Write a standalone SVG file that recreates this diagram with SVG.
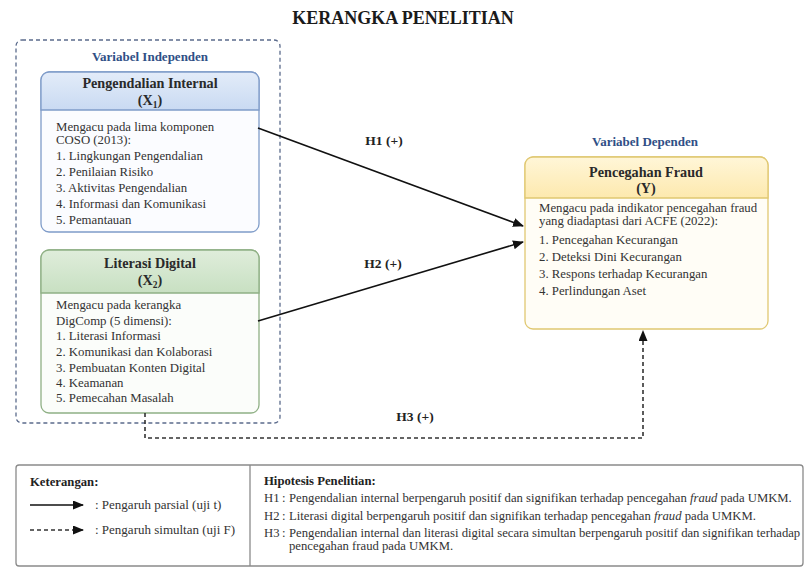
<svg xmlns="http://www.w3.org/2000/svg" width="807" height="570" viewBox="0 0 807 570">
<defs>
<style>
text{font-family:"Liberation Serif","Times New Roman",serif;fill:#2a2a2a}
.title{font-size:18px;font-weight:bold;fill:#1a1a1a}
.grp{font-size:13px;font-weight:bold;fill:#2f4f86}
.hd{font-size:14.2px;font-weight:bold;fill:#2a2a2a}
.bd{font-size:12.8px;fill:#333}
.hl{font-size:13.5px;font-weight:bold;fill:#222}
.lg{font-size:12.7px;fill:#333}
.lgl{font-size:13px;fill:#333}
.lgb{font-size:12.7px;font-weight:bold;fill:#222}
.conn{fill:none;stroke:#111;stroke-width:1.6}
.dash{fill:none;stroke:#333;stroke-width:1.6;stroke-dasharray:4 3}
</style>
<linearGradient id="gb" x1="0" y1="0" x2="0" y2="1"><stop offset="0" stop-color="#e3ecf9"/><stop offset="1" stop-color="#c9daf2"/></linearGradient>
<linearGradient id="gg" x1="0" y1="0" x2="0" y2="1"><stop offset="0" stop-color="#dfeddb"/><stop offset="1" stop-color="#c8e0c2"/></linearGradient>
<linearGradient id="gy" x1="0" y1="0" x2="0" y2="1"><stop offset="0" stop-color="#fff6d8"/><stop offset="1" stop-color="#fde9ae"/></linearGradient>
<marker id="ah" markerWidth="11" markerHeight="9" refX="10" refY="4.5" orient="auto" markerUnits="userSpaceOnUse"><path d="M0,0 L11,4.5 L0,9 Z" fill="#111"/></marker>
</defs>
<rect width="807" height="570" fill="#ffffff"/>
<text class="title" x="403" y="24" text-anchor="middle">KERANGKA PENELITIAN</text>

<g id="independen">
<rect x="16" y="40" width="264" height="383" rx="6" fill="none" stroke="#5b6b8c" stroke-width="1.3" stroke-dasharray="4 3"/>
<text class="grp" x="150" y="61" text-anchor="middle">Variabel Independen</text>
</g>

<g id="x1">
<rect x="41" y="72" width="218" height="160" rx="8" fill="#fbfcff" stroke="#7f9cc9" stroke-width="1.3"/>
<path d="M41,110 V80 a8,8 0 0 1 8,-8 H251 a8,8 0 0 1 8,8 V110 Z" fill="url(#gb)" stroke="#7f9cc9" stroke-width="1.3"/>
<text class="hd" x="150" y="88" text-anchor="middle">Pengendalian Internal</text>
<text class="hd" x="150" y="105" text-anchor="middle">(X<tspan font-size="9.5" dy="3">1</tspan><tspan dy="-3">)</tspan></text>
<text class="bd" x="56" y="131">Mengacu pada lima komponen</text>
<text class="bd" x="56" y="144">COSO (2013):</text>
<text class="bd" x="56" y="160">1. Lingkungan Pengendalian</text>
<text class="bd" x="56" y="176">2. Penilaian Risiko</text>
<text class="bd" x="56" y="192">3. Aktivitas Pengendalian</text>
<text class="bd" x="56" y="208">4. Informasi dan Komunikasi</text>
<text class="bd" x="56" y="224">5. Pemantauan</text>
</g>

<g id="x2">
<rect x="41" y="250" width="218" height="163" rx="8" fill="#fbfdfa" stroke="#8fb085" stroke-width="1.3"/>
<path d="M41,293 V258 a8,8 0 0 1 8,-8 H251 a8,8 0 0 1 8,8 V293 Z" fill="url(#gg)" stroke="#8fb085" stroke-width="1.3"/>
<text class="hd" x="150" y="268" text-anchor="middle">Literasi Digital</text>
<text class="hd" x="150" y="285" text-anchor="middle">(X<tspan font-size="9.5" dy="3">2</tspan><tspan dy="-3">)</tspan></text>
<text class="bd" x="56" y="309">Mengacu pada kerangka</text>
<text class="bd" x="56" y="325">DigComp (5 dimensi):</text>
<text class="bd" x="56" y="340">1. Literasi Informasi</text>
<text class="bd" x="56" y="356">2. Komunikasi dan Kolaborasi</text>
<text class="bd" x="56" y="372">3. Pembuatan Konten Digital</text>
<text class="bd" x="56" y="387">4. Keamanan</text>
<text class="bd" x="56" y="402">5. Pemecahan Masalah</text>
</g>

<g id="y">
<text class="grp" x="645" y="146" text-anchor="middle">Variabel Dependen</text>
<rect x="525" y="157" width="243" height="172" rx="8" fill="#fffdf6" stroke="#e0c872" stroke-width="1.3"/>
<path d="M525,198 V165 a8,8 0 0 1 8,-8 H760 a8,8 0 0 1 8,8 V198 Z" fill="url(#gy)" stroke="#e0c872" stroke-width="1.3"/>
<text class="hd" x="646" y="177" text-anchor="middle">Pencegahan Fraud</text>
<text class="hd" x="646" y="193" text-anchor="middle">(Y)</text>
<text class="bd" x="539" y="212">Mengacu pada indikator pencegahan fraud</text>
<text class="bd" x="539" y="225">yang diadaptasi dari ACFE (2022):</text>
<text class="bd" x="539" y="244">1. Pencegahan Kecurangan</text>
<text class="bd" x="539" y="261">2. Deteksi Dini Kecurangan</text>
<text class="bd" x="539" y="278">3. Respons terhadap Kecurangan</text>
<text class="bd" x="539" y="295">4. Perlindungan Aset</text>
</g>

<g id="connectors">
<path class="conn" d="M258,128 L523,226" marker-end="url(#ah)"/>
<path class="conn" d="M258,321 L523,242" marker-end="url(#ah)"/>
<path class="dash" d="M145,413 V438 H643 V331" marker-end="url(#ah)"/>
<text class="hl" x="384" y="145" text-anchor="middle">H1 (+)</text>
<text class="hl" x="383" y="268" text-anchor="middle">H2 (+)</text>
<text class="hl" x="415" y="421" text-anchor="middle">H3 (+)</text>
</g>

<g id="legend">
<rect x="16" y="465" width="787" height="101" rx="3" fill="#ffffff" stroke="#8a8a8a" stroke-width="1.3"/>
<line x1="250" y1="465" x2="250" y2="566" stroke="#8a8a8a" stroke-width="1.3"/>
<text class="lgb" x="30" y="486">Keterangan:</text>
<path class="conn" d="M30,505 H83" marker-end="url(#ah)"/>
<text class="lgl" x="95" y="509">: Pengaruh parsial (uji t)</text>
<path class="dash" d="M30,530 H83" marker-end="url(#ah)"/>
<text class="lgl" x="95" y="534">: Pengaruh simultan (uji F)</text>
<text class="lgb" x="264" y="485">Hipotesis Penelitian:</text>
<text class="lg" x="264" y="502">H1</text><text class="lg" x="282" y="502">:</text>
<text class="lg" x="289" y="502">Pengendalian internal berpengaruh positif dan signifikan terhadap pencegahan <tspan font-style="italic">fraud</tspan> pada UMKM.</text>
<text class="lg" x="264" y="520">H2</text><text class="lg" x="282" y="520">:</text>
<text class="lg" x="289" y="520">Literasi digital berpengaruh positif dan signifikan terhadap pencegahan <tspan font-style="italic">fraud</tspan> pada UMKM.</text>
<text class="lg" x="264" y="537">H3</text><text class="lg" x="282" y="537">:</text>
<text class="lg" x="289" y="537">Pengendalian internal dan literasi digital secara simultan berpengaruh positif dan signifikan terhadap</text>
<text class="lg" x="289" y="550">pencegahan fraud pada UMKM.</text>
</g>
</svg>
